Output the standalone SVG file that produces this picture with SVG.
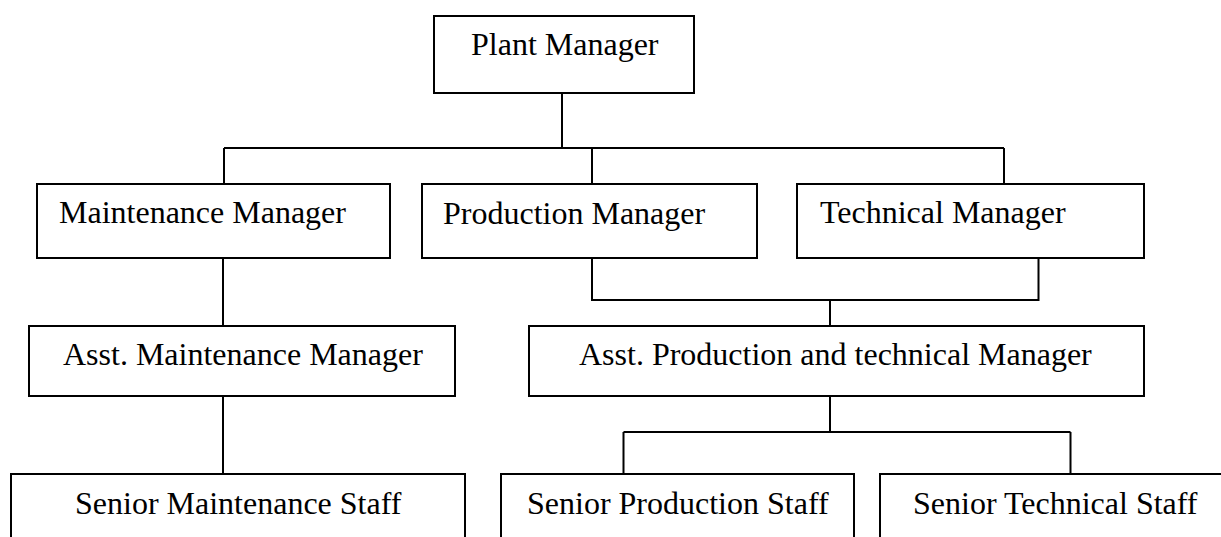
<svg xmlns="http://www.w3.org/2000/svg" width="1221" height="537" viewBox="0 0 1221 537">
<style>
.box{fill:#fff;stroke:#000;stroke-width:2}
.lbl{font-family:"Liberation Serif","Times New Roman",serif;font-size:32px;fill:#000}
.con{fill:none;stroke:#000;stroke-width:2}
</style>
<rect width="1221" height="537" fill="#fff"/>
<g id="connectors">
<path class="con" d="M562,93 V148 M224,148 H1004 M224,148 V184 M592,148 V184 M1004,148 V184"/>
<path class="con" d="M592,258 V300 H1038.5 V258 M830,300 V326"/>
<path class="con" d="M223,258 V326 M223,396 V474"/>
<path class="con" d="M830,396 V432 M623.5,432 H1070.5 M623.5,432 V474 M1070.5,432 V474"/>
</g>
<g id="plant-manager"><rect class="box" x="434" y="16" width="260" height="77"/><text class="lbl" x="471" y="55">Plant Manager</text></g>
<g id="maintenance-manager"><rect class="box" x="37" y="184" width="353" height="74"/><text class="lbl" x="59" y="223">Maintenance Manager</text></g>
<g id="production-manager"><rect class="box" x="422" y="184" width="335" height="74"/><text class="lbl" x="443" y="224">Production Manager</text></g>
<g id="technical-manager"><rect class="box" x="797" y="184" width="347" height="74"/><text class="lbl" x="820" y="223">Technical Manager</text></g>
<g id="asst-maintenance-manager"><rect class="box" x="29" y="326" width="426" height="70"/><text class="lbl" x="63" y="365">Asst. Maintenance Manager</text></g>
<g id="asst-production-technical-manager"><rect class="box" x="529" y="326" width="615" height="70"/><text class="lbl" x="579" y="365">Asst. Production and technical Manager</text></g>
<g id="senior-maintenance-staff"><rect class="box" x="11" y="474" width="454" height="80"/><text class="lbl" x="75" y="514">Senior Maintenance Staff</text></g>
<g id="senior-production-staff"><rect class="box" x="501" y="474" width="353" height="80"/><text class="lbl" x="527" y="514">Senior Production Staff</text></g>
<g id="senior-technical-staff"><rect class="box" x="880" y="474" width="360" height="80"/><text class="lbl" x="913" y="514">Senior Technical Staff</text></g>
</svg>
